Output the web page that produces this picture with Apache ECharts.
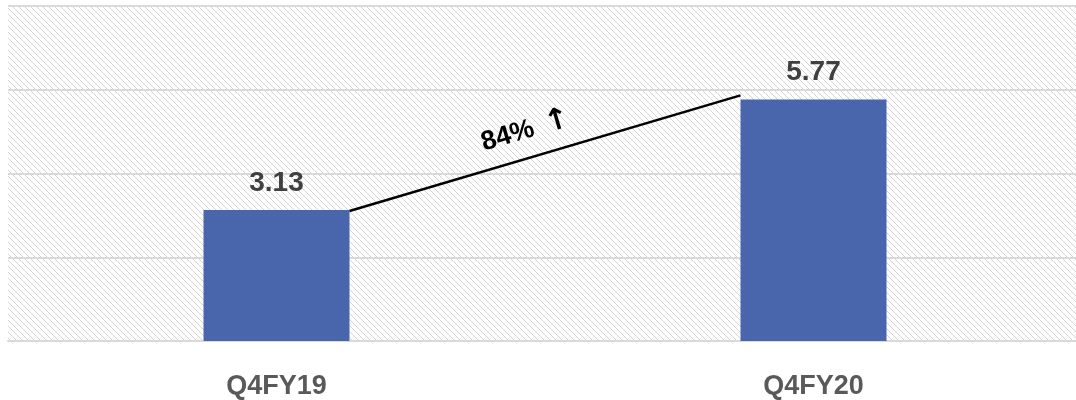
<!DOCTYPE html>
<html>
<head>
<meta charset="utf-8">
<script src="https://cdn.jsdelivr.net/npm/echarts@6/dist/echarts.min.js"></script>
<style>
html,body{margin:0;padding:0;background:#fff;overflow:hidden;}
#chart{width:1082px;height:400px;}
</style>
</head>
<body>
<div id="chart"></div>
<script>
var categories = ['Q4FY19', 'Q4FY20'];
var values = [3.13, 5.77];
var changeText = '84%';
var changeArrow = '\u2191';

var tile = document.createElement('canvas');
tile.width = 6; tile.height = 6;
var tctx = tile.getContext('2d');
tctx.fillStyle = '#ffffff';
tctx.fillRect(0, 0, 6, 6);
tctx.fillStyle = '#d4d4d4';
for (var i = 0; i < 6; i++) { tctx.fillRect(i, i, 1, 1); }

var chart = echarts.init(document.getElementById('chart'), null, {renderer: 'canvas'});
var BAR_W = 146;
chart.setOption({
  animation: false,
  grid: {
    left: 8, top: 6, right: 0, bottom: 58,
    show: true, borderWidth: 0,
    backgroundColor: {image: tile, repeat: 'repeat'}
  },
  xAxis: {
    type: 'category',
    data: categories,
    axisLine: {show: true, lineStyle: {color: '#d9d9d9', width: 2}},
    axisTick: {show: false},
    axisLabel: {
      color: '#595959', fontSize: 27, fontWeight: 'bold',
      fontFamily: 'Liberation Sans', margin: 32
    }
  },
  yAxis: {
    type: 'value', min: 0, max: 8, interval: 2,
    axisLine: {show: false}, axisTick: {show: false},
    axisLabel: {show: false},
    splitLine: {lineStyle: {color: '#d9d9d9', width: 2}}
  },
  series: [{
    type: 'bar',
    data: values,
    barWidth: BAR_W,
    itemStyle: {color: '#4966ad'},
    label: {
      show: true, position: 'top', distance: 13,
      color: '#404040', fontSize: 28, fontWeight: 'bold',
      fontFamily: 'Liberation Sans',
      formatter: function (p) { return p.value.toFixed(2); }
    }
  }]
});

var p0 = chart.convertToPixel({gridIndex: 0}, [0, values[0]]);
var p1 = chart.convertToPixel({gridIndex: 0}, [1, values[1]]);
var x0 = p0[0] + BAR_W / 2, y0 = p0[1] + 1;
var x1 = p1[0] - BAR_W / 2, y1 = p1[1] - 4;
var ang = Math.atan2(y0 - y1, x1 - x0);
var t = 0.47;
var mx = x0 + (x1 - x0) * t, my = y0 + (y1 - y0) * t;
var off = 27;
var tx = mx - Math.sin(ang) * off, ty = my - Math.cos(ang) * off;

chart.setOption({
  graphic: [
    {type: 'line', shape: {x1: x0, y1: y0, x2: x1, y2: y1},
     style: {stroke: '#000', lineWidth: 2.5}, z: 100},
    {type: 'text', x: tx, y: ty, rotation: ang,
     style: {
       text: '{a|' + changeText + '}{s| }{b|' + changeArrow + '}',
       align: 'center', verticalAlign: 'middle',
       rich: {
         a: {fill: '#000', fontSize: 27, fontWeight: 'bold', fontFamily: 'Liberation Sans'},
         s: {width: 12},
         b: {fill: '#000', fontSize: 30, fontWeight: 'bold', fontFamily: 'DejaVu Sans'}
       }
     }, z: 100}
  ]
});
</script>
</body>
</html>
